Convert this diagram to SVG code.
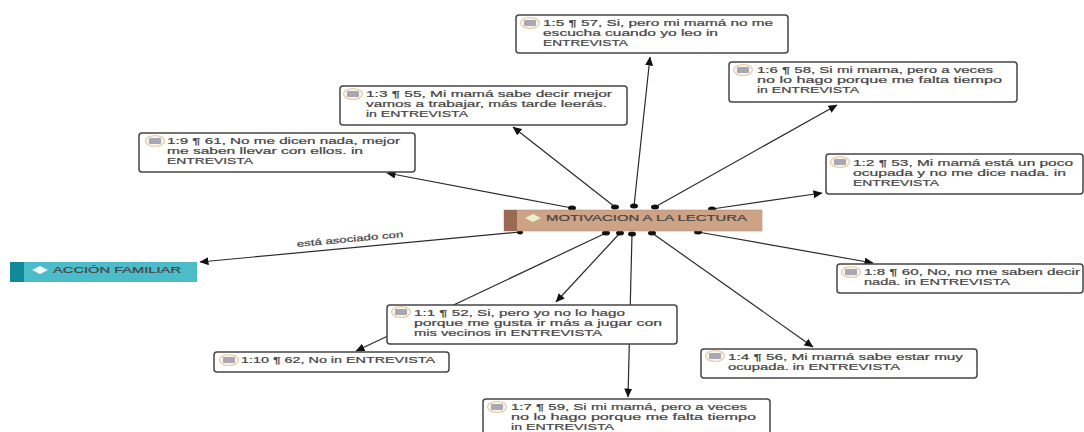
<svg xmlns="http://www.w3.org/2000/svg" width="1084" height="432" viewBox="0 0 1084 432">
<style>
.q{fill:#fff;stroke:#454545;stroke-width:1.5}
.t{font-family:"Liberation Sans","DejaVu Sans",sans-serif;font-size:8.800px;fill:#454545;stroke:#454545;stroke-width:.2}
.c{stroke:#2a2a2a;stroke-width:1.2;fill:none;marker-end:url(#a)}
.d{fill:#111}
.ic{fill:#fbf3ea;stroke:#e6cba8;stroke-width:1.2}
.ig{fill:#a8a8b4}
</style>
<defs><marker id="a" markerWidth="9" markerHeight="8" refX="8.500" refY="4" orient="auto" markerUnits="userSpaceOnUse"><path d="M0 0L9 4L0 8Z" fill="#111"/></marker>
<g id="i"><ellipse class="ic" cx="0" cy="0" rx="9.500" ry="5.500"/><rect class="ig" x="-6" y="-3" width="12" height="6" rx="1"/></g></defs>
<rect width="1084" height="432" fill="#fff"/>
<g id="connectors">
<path class="c" d="M634 206L650 57"/>
<path class="c" d="M615 207L513 127"/>
<path class="c" d="M655 207L837 105"/>
<path class="c" d="M572 208L387 173"/>
<path class="c" d="M712 209L822 193"/>
<path class="c" d="M520 232L200 262"/>
<path class="c" d="M698 232L873 263"/>
<path class="c" d="M606 233L356 351"/>
<path class="c" d="M620 233L556 302"/>
<path class="c" d="M632 234L628 397"/>
<path class="c" d="M652 233L813 347"/>
<ellipse class="d" cx="572" cy="208" rx="4" ry="2.500"/><ellipse class="d" cx="615" cy="207" rx="4" ry="2.500"/><ellipse class="d" cx="634" cy="206" rx="4" ry="2.500"/><ellipse class="d" cx="655" cy="207" rx="4" ry="2.500"/><ellipse class="d" cx="712" cy="209" rx="4" ry="2.500"/><ellipse class="d" cx="520" cy="232" rx="3" ry="2.500"/><ellipse class="d" cx="606" cy="233" rx="4" ry="2.500"/><ellipse class="d" cx="620" cy="233" rx="4" ry="2.500"/><ellipse class="d" cx="632" cy="234" rx="4" ry="2.500"/><ellipse class="d" cx="652" cy="233" rx="4" ry="2.500"/><ellipse class="d" cx="698" cy="232" rx="4" ry="2.500"/>
<text x="297" y="247" transform="rotate(-5.300 297 247)" class="t" textLength="107" lengthAdjust="spacingAndGlyphs">está asociado con</text>
</g>
<g id="n15"><rect class="q" x="516" y="15" width="272" height="38" rx="3"/><use href="#i" x="530" y="23"/><text class="t" x="543" y="26" textLength="230" lengthAdjust="spacingAndGlyphs">1:5 ¶ 57, Si, pero mi mamá no me</text><text class="t" x="543" y="36" textLength="175" lengthAdjust="spacingAndGlyphs">escucha cuando yo leo in</text><text class="t" x="543" y="46" textLength="85" lengthAdjust="spacingAndGlyphs">ENTREVISTA</text></g>
<g id="n16"><rect class="q" x="729" y="62" width="288" height="40" rx="3"/><use href="#i" x="743" y="70"/><text class="t" x="757" y="73" textLength="236" lengthAdjust="spacingAndGlyphs">1:6 ¶ 58, Si mi mama, pero a veces</text><text class="t" x="757" y="83" textLength="245" lengthAdjust="spacingAndGlyphs">no lo hago porque me falta tiempo</text><text class="t" x="757" y="93" textLength="102" lengthAdjust="spacingAndGlyphs">in ENTREVISTA</text></g>
<g id="n13"><rect class="q" x="340" y="86" width="287" height="39" rx="3"/><use href="#i" x="353" y="94"/><text class="t" x="366" y="97" textLength="246" lengthAdjust="spacingAndGlyphs">1:3 ¶ 55, Mi mamá sabe decir mejor</text><text class="t" x="366" y="107" textLength="241" lengthAdjust="spacingAndGlyphs">vamos a trabajar, más tarde leerás.</text><text class="t" x="366" y="117" textLength="102" lengthAdjust="spacingAndGlyphs">in ENTREVISTA</text></g>
<g id="n19"><rect class="q" x="139" y="133" width="276" height="39" rx="3"/><use href="#i" x="155" y="141"/><text class="t" x="167" y="144" textLength="233" lengthAdjust="spacingAndGlyphs">1:9 ¶ 61, No me dicen nada, mejor</text><text class="t" x="167" y="154" textLength="196" lengthAdjust="spacingAndGlyphs">me saben llevar con ellos. in</text><text class="t" x="167" y="164" textLength="86" lengthAdjust="spacingAndGlyphs">ENTREVISTA</text></g>
<g id="n12"><rect class="q" x="826" y="154" width="257" height="40" rx="3"/><use href="#i" x="840" y="162"/><text class="t" x="853" y="166" textLength="220" lengthAdjust="spacingAndGlyphs">1:2 ¶ 53, Mi mamá está un poco</text><text class="t" x="853" y="176" textLength="213" lengthAdjust="spacingAndGlyphs">ocupada y no me dice nada. in</text><text class="t" x="853" y="186" textLength="86" lengthAdjust="spacingAndGlyphs">ENTREVISTA</text></g>
<g id="center"><rect x="504" y="210" width="258" height="21" fill="#cda285" stroke="#b0957f" stroke-width=".6"/><rect x="504" y="210" width="13" height="21" fill="#9b6a55"/><path d="M525 218L533 214L541 218L533 222Z" fill="#e8f0d0"/><text class="t" x="546" y="221" textLength="201" lengthAdjust="spacingAndGlyphs">MOTIVACION A LA LECTURA</text></g>
<g id="accion"><rect x="10" y="262" width="187" height="20" fill="#4cbcc8"/><rect x="10" y="262" width="14" height="20" fill="#0e8a9a"/><path d="M32 270L40 266L48 270L40 274Z" fill="#eefafa"/><text class="t" x="53" y="273" textLength="128" lengthAdjust="spacingAndGlyphs">ACCIÓN FAMILIAR</text></g>
<g id="n18"><rect class="q" x="837" y="264" width="246" height="29" rx="3"/><use href="#i" x="851" y="272"/><text class="t" x="864" y="275" textLength="216" lengthAdjust="spacingAndGlyphs">1:8 ¶ 60, No, no me saben decir</text><text class="t" x="864" y="285" textLength="146" lengthAdjust="spacingAndGlyphs">nada. in ENTREVISTA</text></g>
<g id="n11"><rect class="q" x="387" y="305" width="290" height="39" rx="3"/><use href="#i" x="401" y="312"/><text class="t" x="414" y="316" textLength="211" lengthAdjust="spacingAndGlyphs">1:1 ¶ 52, Si, pero yo no lo hago</text><text class="t" x="414" y="326" textLength="248" lengthAdjust="spacingAndGlyphs">porque me gusta ir más a jugar con</text><text class="t" x="414" y="336" textLength="188" lengthAdjust="spacingAndGlyphs">mis vecinos in ENTREVISTA</text></g>
<g id="n110"><rect class="q" x="214" y="352" width="235" height="20" rx="3"/><use href="#i" x="229" y="360"/><text class="t" x="241" y="363" textLength="194" lengthAdjust="spacingAndGlyphs">1:10 ¶ 62, No in ENTREVISTA</text></g>
<g id="n14"><rect class="q" x="701" y="349" width="276" height="29" rx="3"/><use href="#i" x="715" y="356"/><text class="t" x="728" y="360" textLength="235" lengthAdjust="spacingAndGlyphs">1:4 ¶ 56, Mi mamá sabe estar muy</text><text class="t" x="728" y="370" textLength="172" lengthAdjust="spacingAndGlyphs">ocupada. in ENTREVISTA</text></g>
<g id="n17"><rect class="q" x="483" y="399" width="287" height="42" rx="3"/><use href="#i" x="497" y="407"/><text class="t" x="511" y="410" textLength="236" lengthAdjust="spacingAndGlyphs">1:7 ¶ 59, Si mi mamá, pero a veces</text><text class="t" x="511" y="420" textLength="245" lengthAdjust="spacingAndGlyphs">no lo hago porque me falta tiempo</text><text class="t" x="511" y="430" textLength="103" lengthAdjust="spacingAndGlyphs">in ENTREVISTA</text></g>
</svg>
